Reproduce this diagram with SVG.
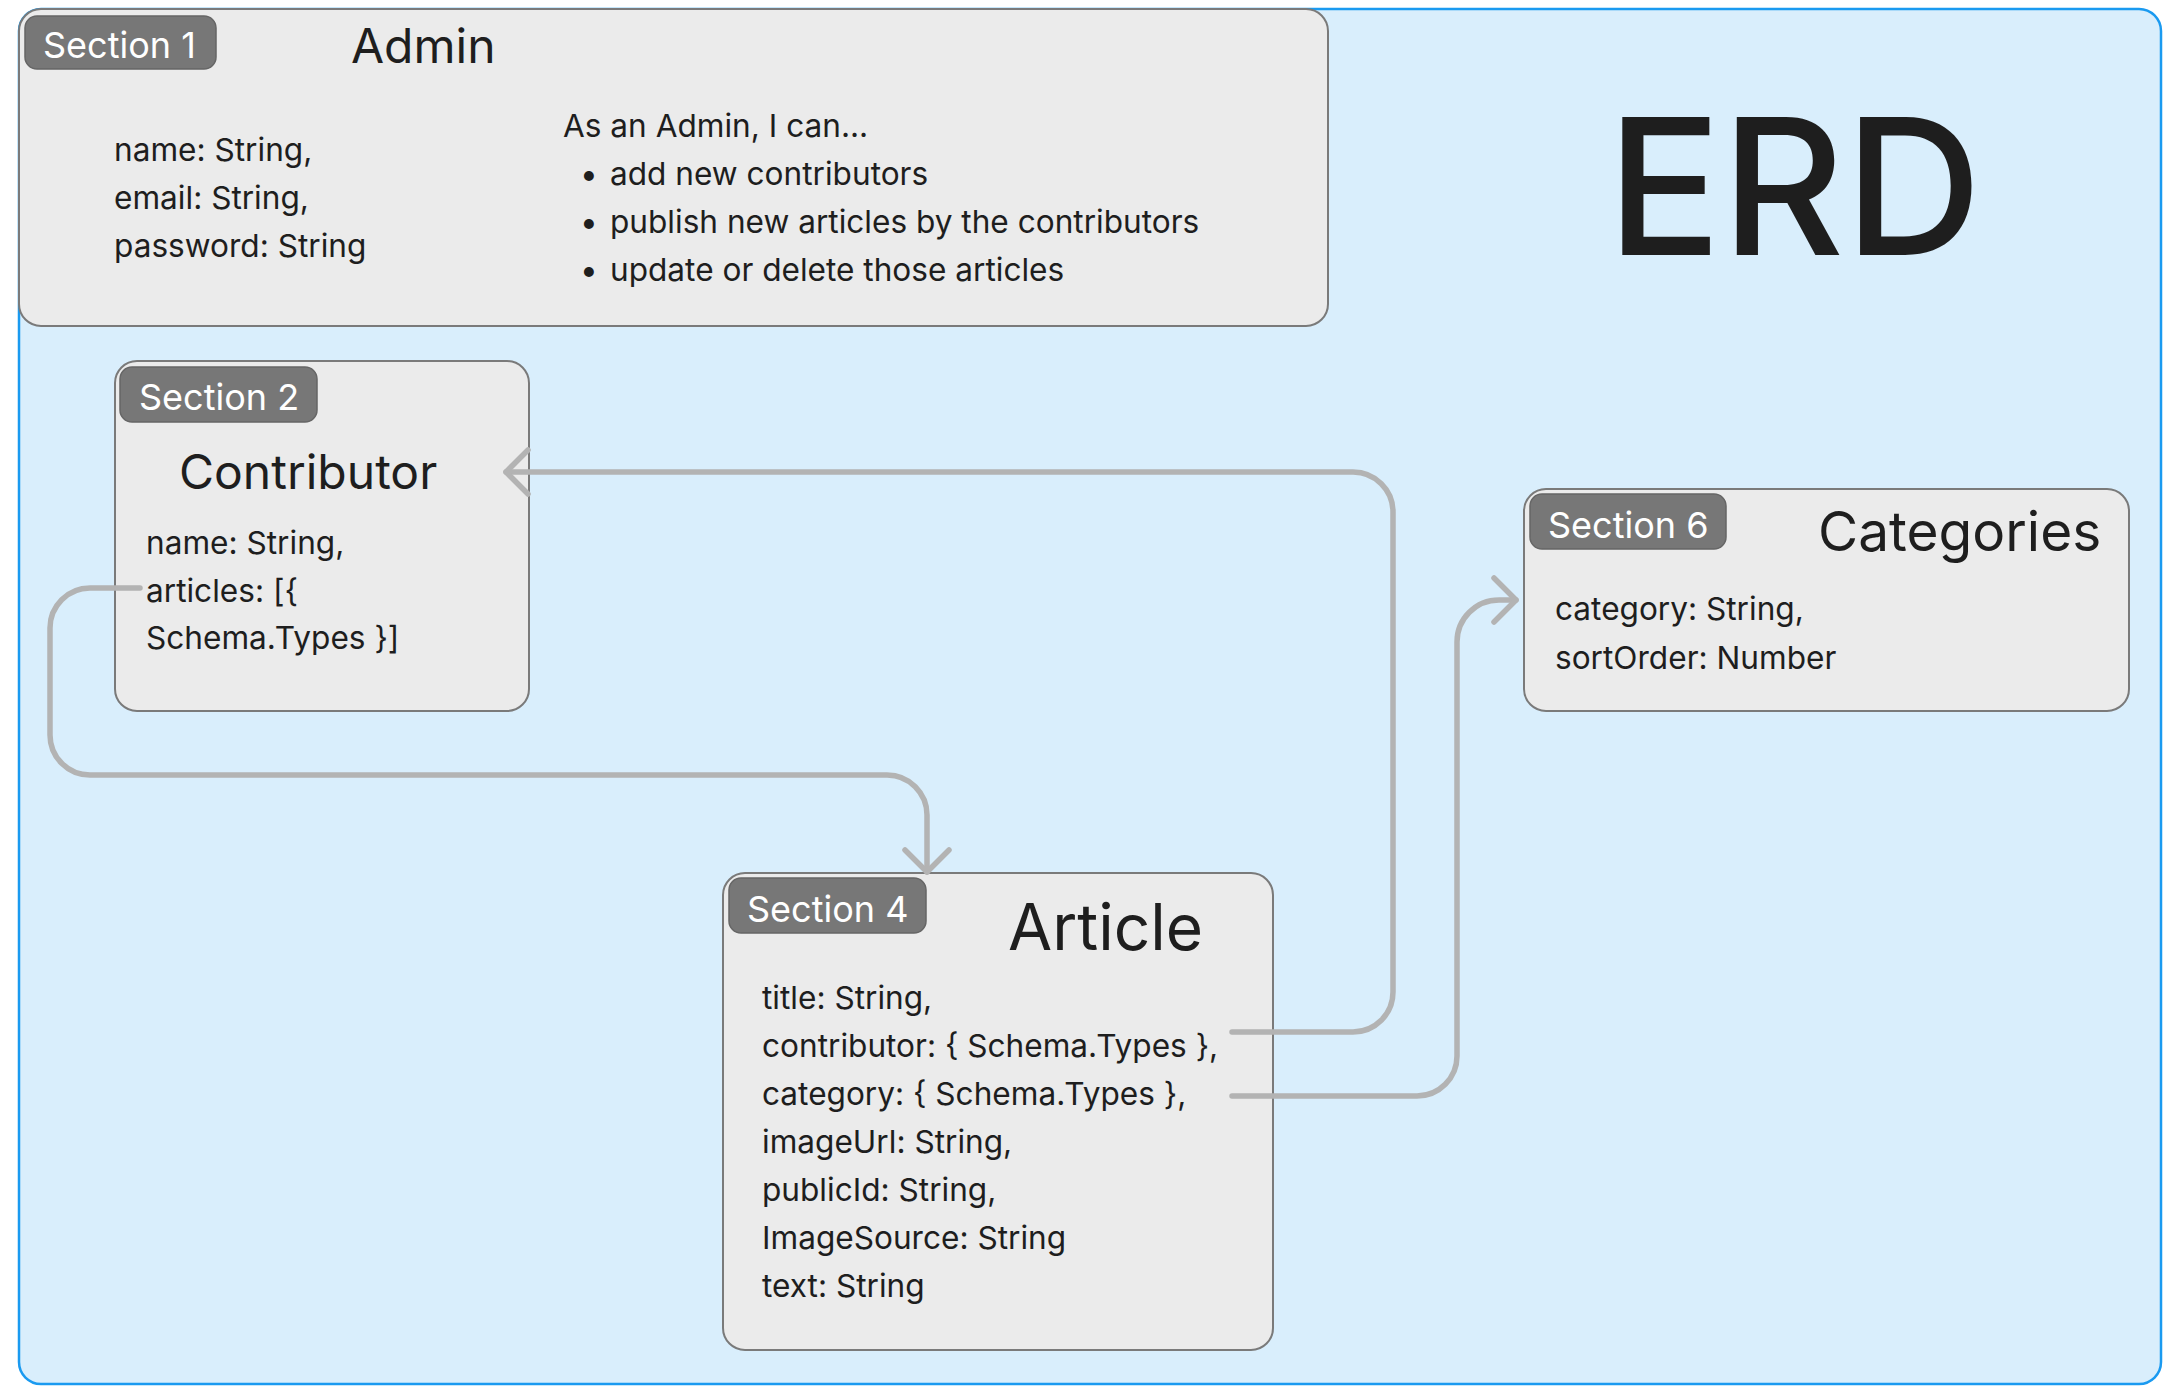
<svg xmlns="http://www.w3.org/2000/svg" width="2176" height="1397" viewBox="0 0 2176 1397">
<defs>
<style>
.node{fill:#ebebeb;stroke:#7a7a7a;stroke-width:2}
.badge{fill:#777777;stroke:#666666;stroke-width:1.5}
.badge-t{font-family:Inter,"Liberation Sans",sans-serif;font-size:36px;fill:#ffffff}
.title{font-family:Inter,"Liberation Sans",sans-serif;fill:#1e1e1e}
.f{font-family:Inter,"Liberation Sans",sans-serif;font-size:31.6px;fill:#1e1e1e}
.conn{fill:none;stroke:#b3b3b3;stroke-width:5.5;stroke-linecap:round;stroke-linejoin:round}
</style>
<marker id="chev" markerUnits="userSpaceOnUse" markerWidth="40" markerHeight="60" viewBox="-30 -30 40 60" refX="0" refY="0" orient="auto">
<path d="M-22,-22 L0,0 L-22,22" fill="none" stroke="#b3b3b3" stroke-width="5.5" stroke-linecap="round" stroke-linejoin="round"/>
</marker>
</defs>
<rect x="0" y="0" width="2176" height="1397" fill="#ffffff"/>
<g id="frame">
<rect x="19" y="9" width="2142" height="1375" rx="22" fill="#d9eefc" stroke="#1a9af0" stroke-width="2.5"/>
<text class="title" x="1607" y="255" font-size="190" font-weight="500">ERD</text>
</g>
<g id="admin">
<rect class="node" x="19" y="9" width="1309" height="317" rx="22"/>
<rect class="badge" x="25" y="16" width="191" height="53" rx="12"/>
<text class="badge-t" x="43" y="58">Section 1</text>
<text class="title" x="351" y="63" font-size="48">Admin</text>
<text class="f" x="114" y="161">name: String,</text>
<text class="f" x="114" y="209">email: String,</text>
<text class="f" x="114" y="257">password: String</text>
<text class="f" x="563" y="137">As an Admin, I can...</text>
<text class="f" x="580" y="185">•</text>
<text class="f" x="610" y="185">add new contributors</text>
<text class="f" x="580" y="233">•</text>
<text class="f" x="610" y="233">publish new articles by the contributors</text>
<text class="f" x="580" y="281">•</text>
<text class="f" x="610" y="281">update or delete those articles</text>
</g>
<g id="contributor">
<rect class="node" x="115" y="361" width="414" height="350" rx="22"/>
<rect class="badge" x="120" y="367" width="197" height="55" rx="12"/>
<text class="badge-t" x="139" y="410">Section 2</text>
<text class="title" x="179" y="489" font-size="48">Contributor</text>
<text class="f" x="146" y="554">name: String,</text>
<text class="f" x="146" y="602">articles: [{</text>
<text class="f" x="146" y="649">Schema.Types }]</text>
</g>
<g id="categories">
<rect class="node" x="1524" y="489" width="605" height="222" rx="22"/>
<rect class="badge" x="1530" y="494" width="196" height="55" rx="12"/>
<text class="badge-t" x="1548" y="538">Section 6</text>
<text class="title" x="1818" y="551" font-size="55">Categories</text>
<text class="f" x="1555" y="620">category: String,</text>
<text class="f" x="1555" y="669">sortOrder: Number</text>
</g>
<g id="article">
<rect class="node" x="723" y="873" width="550" height="477" rx="22"/>
<rect class="badge" x="729" y="878" width="197" height="55" rx="12"/>
<text class="badge-t" x="747" y="922">Section 4</text>
<text class="title" x="1008" y="950" font-size="64">Article</text>
<text class="f" x="762" y="1009">title: String,</text>
<text class="f" x="762" y="1057">contributor: { Schema.Types },</text>
<text class="f" x="762" y="1105">category: { Schema.Types },</text>
<text class="f" x="762" y="1153">imageUrl: String,</text>
<text class="f" x="762" y="1201">publicId: String,</text>
<text class="f" x="762" y="1249">ImageSource: String</text>
<text class="f" x="762" y="1297">text: String</text>
</g>
<g id="connectors">
<path class="conn" d="M140,588 H90 A40,40 0 0 0 50,628 V735 A40,40 0 0 0 90,775 H887 A40,40 0 0 1 927,815 V872" marker-end="url(#chev)"/>
<path class="conn" d="M1232,1032 H1353 A40,40 0 0 0 1393,992 V512 A40,40 0 0 0 1353,472 H506" marker-end="url(#chev)"/>
<path class="conn" d="M1232,1096 H1417 A40,40 0 0 0 1457,1056 V642 A42,42 0 0 1 1499,600 H1516" marker-end="url(#chev)"/>
</g>
</svg>
